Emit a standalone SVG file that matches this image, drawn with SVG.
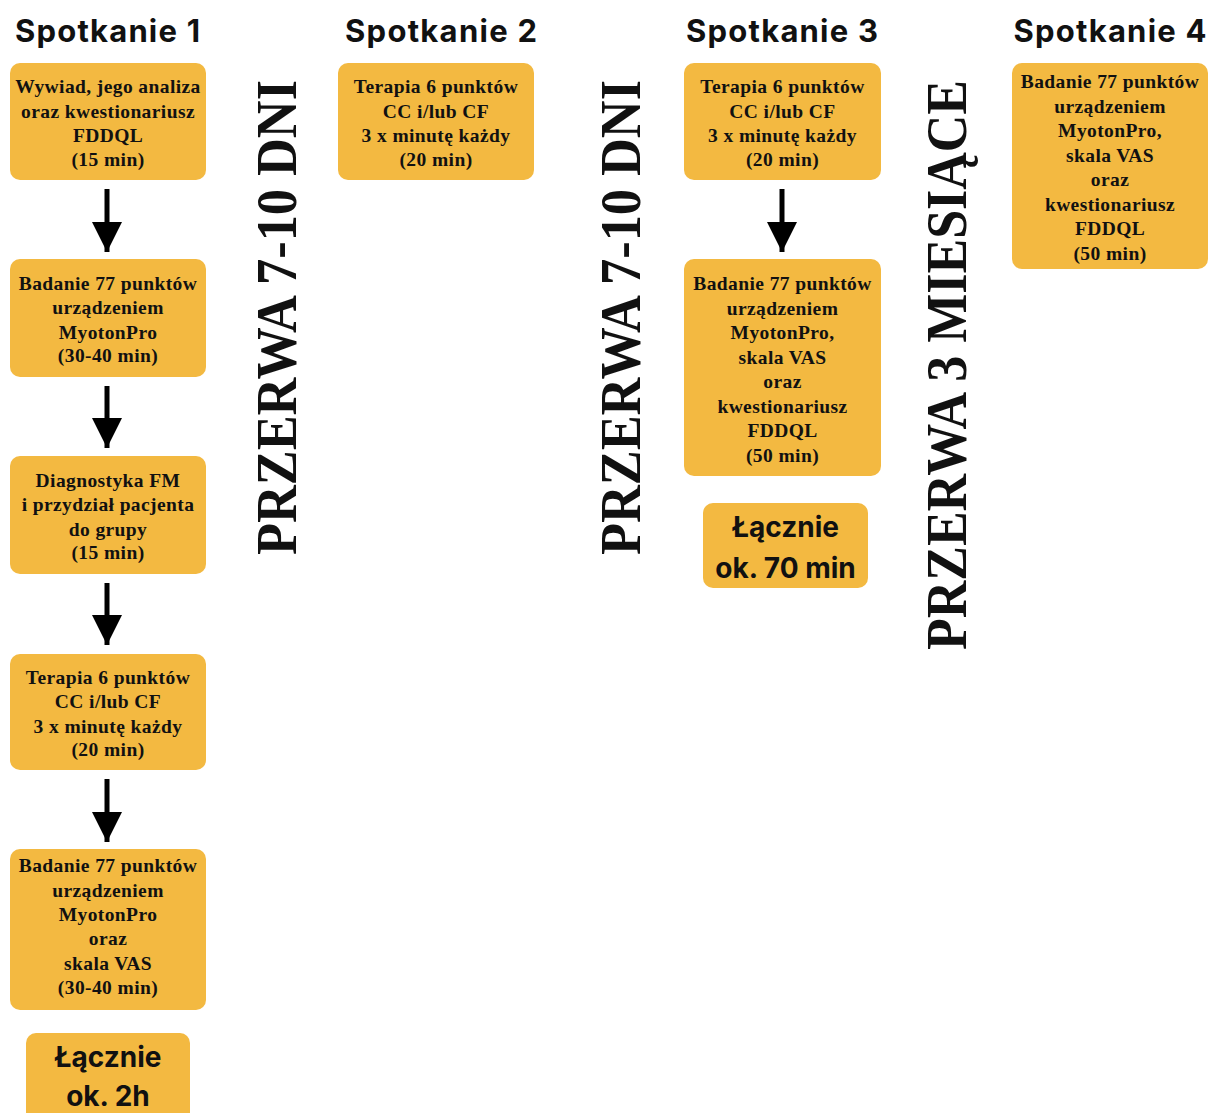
<svg xmlns="http://www.w3.org/2000/svg" width="1209" height="1113" viewBox="0 0 1209 1113">
<defs>
<style>
.box{fill:#F3B941;}
.h{font-family:Inter,"Liberation Sans",sans-serif;font-weight:700;font-size:31px;fill:#111;text-anchor:middle;}
.t{font-family:"Liberation Serif",serif;font-weight:700;font-size:19.5px;letter-spacing:0.4px;fill:#111;text-anchor:middle;}
.sum{font-family:Inter,"Liberation Sans",sans-serif;font-weight:700;font-size:28px;fill:#111;text-anchor:middle;}
.v{font-family:"Liberation Serif",serif;font-weight:700;font-size:57px;fill:#111;}
.arr{stroke:#000;stroke-width:5;fill:none;}
</style>
<marker id="ah" markerUnits="userSpaceOnUse" markerWidth="32" markerHeight="32" viewBox="0 0 32 32" refX="30" refY="16" orient="auto">
<path d="M0,1 L30,16 L0,31 Z" fill="#000"/>
</marker>
</defs>
<rect width="1209" height="1113" fill="#fff"/>

<g id="headings">
<text class="h" x="107.5" y="42" textLength="185">Spotkanie 1</text>
<text class="h" x="441" y="42" textLength="192">Spotkanie 2</text>
<text class="h" x="782" y="42" textLength="192">Spotkanie 3</text>
<text class="h" x="1110" y="42" textLength="193">Spotkanie 4</text>
</g>

<g id="s1-wywiad">
<rect class="box" x="10" y="63" width="196" height="117" rx="10"/>
<text class="t" x="108"><tspan x="108" y="93">Wywiad, jego analiza</tspan><tspan x="108" y="117.5">oraz kwestionariusz</tspan><tspan x="108" y="142">FDDQL</tspan><tspan x="108" y="166">(15 min)</tspan></text>
</g>
<g id="s1-badanie1">
<rect class="box" x="10" y="259" width="196" height="118" rx="10"/>
<text class="t" x="108"><tspan x="108" y="290">Badanie 77 punktów</tspan><tspan x="108" y="314">urządzeniem</tspan><tspan x="108" y="338.5">MyotonPro</tspan><tspan x="108" y="362">(30-40 min)</tspan></text>
</g>
<g id="s1-diagnostyka">
<rect class="box" x="10" y="456" width="196" height="118" rx="10"/>
<text class="t" x="108"><tspan x="108" y="487">Diagnostyka FM</tspan><tspan x="108" y="511">i przydział pacjenta</tspan><tspan x="108" y="535.5">do grupy</tspan><tspan x="108" y="559">(15 min)</tspan></text>
</g>
<g id="s1-terapia">
<rect class="box" x="10" y="654" width="196" height="116" rx="10"/>
<text class="t" x="108"><tspan x="108" y="684">Terapia 6 punktów</tspan><tspan x="108" y="708">CC i/lub CF</tspan><tspan x="108" y="732.5">3 x minutę każdy</tspan><tspan x="108" y="756">(20 min)</tspan></text>
</g>
<g id="s1-badanie2">
<rect class="box" x="10" y="849" width="196" height="161" rx="10"/>
<text class="t" x="108"><tspan x="108" y="872">Badanie 77 punktów</tspan><tspan x="108" y="896.5">urządzeniem</tspan><tspan x="108" y="921">MyotonPro</tspan><tspan x="108" y="945">oraz</tspan><tspan x="108" y="969.5">skala VAS</tspan><tspan x="108" y="994">(30-40 min)</tspan></text>
</g>
<g id="s1-total">
<rect class="box" x="26" y="1033" width="164" height="100" rx="10"/>
<text class="sum" x="108"><tspan x="108" y="1067">Łącznie</tspan><tspan x="108" y="1106">ok. 2h</tspan></text>
</g>

<g id="s2-terapia">
<rect class="box" x="338" y="63" width="196" height="117" rx="10"/>
<text class="t" x="436"><tspan x="436" y="93">Terapia 6 punktów</tspan><tspan x="436" y="117.5">CC i/lub CF</tspan><tspan x="436" y="142">3 x minutę każdy</tspan><tspan x="436" y="166">(20 min)</tspan></text>
</g>

<g id="s3-terapia">
<rect class="box" x="684" y="63" width="197" height="117" rx="10"/>
<text class="t" x="782.5"><tspan x="782.5" y="93">Terapia 6 punktów</tspan><tspan x="782.5" y="117.5">CC i/lub CF</tspan><tspan x="782.5" y="142">3 x minutę każdy</tspan><tspan x="782.5" y="166">(20 min)</tspan></text>
</g>
<g id="s3-badanie">
<rect class="box" x="684" y="259" width="197" height="217" rx="10"/>
<text class="t" x="782.5"><tspan x="782.5" y="290">Badanie 77 punktów</tspan><tspan x="782.5" y="314.5">urządzeniem</tspan><tspan x="782.5" y="339">MyotonPro,</tspan><tspan x="782.5" y="363.5">skala VAS</tspan><tspan x="782.5" y="388">oraz</tspan><tspan x="782.5" y="412.5">kwestionariusz</tspan><tspan x="782.5" y="437">FDDQL</tspan><tspan x="782.5" y="461.5">(50 min)</tspan></text>
</g>
<g id="s3-total">
<rect class="box" x="703" y="503" width="165" height="85" rx="10"/>
<text class="sum" x="785.5"><tspan x="785.5" y="537">Łącznie</tspan><tspan x="785.5" y="578">ok. 70 min</tspan></text>
</g>

<g id="s4-badanie">
<rect class="box" x="1012" y="63" width="196" height="206" rx="10"/>
<text class="t" x="1110"><tspan x="1110" y="88">Badanie 77 punktów</tspan><tspan x="1110" y="112.5">urządzeniem</tspan><tspan x="1110" y="137">MyotonPro,</tspan><tspan x="1110" y="161.5">skala VAS</tspan><tspan x="1110" y="186">oraz</tspan><tspan x="1110" y="210.5">kwestionariusz</tspan><tspan x="1110" y="235">FDDQL</tspan><tspan x="1110" y="260">(50 min)</tspan></text>
</g>

<g id="breaks">
<text class="v" transform="translate(296,555) rotate(-90)" textLength="475" lengthAdjust="spacingAndGlyphs">PRZERWA 7-10 DNI</text>
<text class="v" transform="translate(640,555) rotate(-90)" textLength="475" lengthAdjust="spacingAndGlyphs">PRZERWA 7-10 DNI</text>
<text class="v" transform="translate(966,650) rotate(-90)" textLength="570" lengthAdjust="spacingAndGlyphs">PRZERWA 3 MIESIĄCE</text>
</g>

<g id="connectors">
<line class="arr" x1="107" y1="189" x2="107" y2="252" marker-end="url(#ah)"/>
<line class="arr" x1="107" y1="386" x2="107" y2="448" marker-end="url(#ah)"/>
<line class="arr" x1="107" y1="583" x2="107" y2="645" marker-end="url(#ah)"/>
<line class="arr" x1="107" y1="779" x2="107" y2="842" marker-end="url(#ah)"/>
<line class="arr" x1="782" y1="189" x2="782" y2="252" marker-end="url(#ah)"/>
</g>
</svg>
